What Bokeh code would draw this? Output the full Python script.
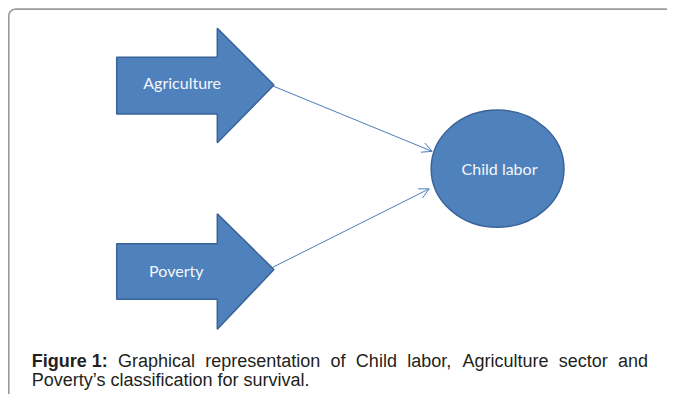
from bokeh.plotting import figure
from bokeh.models import Range1d, Arrow, OpenHead
from bokeh.core.properties import value
from bokeh.embed import file_html
from bokeh.resources import INLINE
import numpy as np

# --- data ---
node_labels = ["Agriculture", "Poverty", "Child labor"]
label_x = [186, 180, 511]
label_y = [85, 281, 175]

# block arrows (reference image coordinates)
arrow_xs = [[119, 222, 222, 280, 222, 222, 119],
            [119, 222, 222, 280, 222, 222, 119]]
arrow_ys = [[59, 59, 29, 88, 148, 118, 118],
            [253, 253, 222, 280, 342, 311, 311]]

# ellipse node
ell_x, ell_y, ell_w, ell_h = 509, 175, 136, 122

# connector lines
conn_x0 = [279, 278]
conn_y0 = [89, 278]
conn_x1 = [442, 439]
conn_y1 = [157, 196]

# caption (line 1 is justified)
cap_bold = "Figure 1:"
cap_words = ["Graphical", "representation", "of", "Child", "labor,",
             "Agriculture", "sector", "and"]
cap_line2 = "Poverty\u2019s classification for survival."

BLUE = "#4F81BD"
EDGE = "#3A639A"
LINE = "#4A7EBB"
CAP_PX = 18.0

# Arial / Liberation Sans advance widths (1/1000 em) for justification
REG = {' ': 278, 'G': 778, 'r': 333, 'a': 556, 'p': 556, 'h': 556, 'i': 222,
       'c': 500, 'l': 222, 'e': 556, 's': 500, 'n': 556, 't': 278, 'o': 556,
       'f': 278, 'C': 722, 'd': 556, 'b': 556, ',': 278, 'A': 667, 'u': 556,
       'g': 556}
BOLD = {'F': 611, 'i': 278, 'g': 611, 'u': 611, 'r': 389, 'e': 556, ' ': 278,
        '1': 556, ':': 333}

W, H = 667, 394
XR, YR = (0, 683), (410, 0)
sx = (XR[1] - XR[0]) / W

def width(s, table):
    return sum(table[ch] for ch in s) / 1000 * CAP_PX * sx

left, right = 32, 663
ws = [width(cap_bold, BOLD)] + [width(w, REG) for w in cap_words]
gap = (right - left - sum(ws)) / len(cap_words)
xs = []
x = left
for w in ws:
    xs.append(x)
    x += w + gap

p = figure(width=W, height=H, output_backend="svg", toolbar_location=None,
           x_range=Range1d(*XR), y_range=Range1d(*YR),
           min_border=0, background_fill_color="white", border_fill_color="white")
p.axis.visible = False
p.grid.visible = False
p.outline_line_color = None

# rounded frame (top and left sides)
r = 7
ang = np.linspace(np.pi, 1.5 * np.pi, 12)
fx = [8.5, 8.5] + list(8.5 + r + r * np.cos(ang)) + [690.0]
fy = [420.0, 9 + r] + list(9 + r + r * np.sin(ang)) + [9.0]
p.line(fx, fy, line_color="#9a9a9a", line_width=1.6)

p.patches(arrow_xs, arrow_ys, fill_color=BLUE, line_color=EDGE, line_width=1.5)
p.ellipse(x=ell_x, y=ell_y, width=ell_w, height=ell_h,
          fill_color=BLUE, line_color=EDGE, line_width=1.5)

for x0, y0, x1, y1 in zip(conn_x0, conn_y0, conn_x1, conn_y1):
    p.add_layout(Arrow(x_start=x0, y_start=y0, x_end=x1, y_end=y1,
                       line_color=LINE, line_width=1,
                       end=OpenHead(size=10, line_color=LINE, line_width=1)))

p.text(x=label_x, y=label_y, text=node_labels, text_align="center",
       text_baseline="middle", text_color="#F4F7FB",
       text_font=value("Lato"), text_font_size="16px")

font_sz = f"{CAP_PX}px"
p.text(x=[xs[0]], y=[375], text=[cap_bold], text_font=value("Liberation Sans"),
       text_font_style="bold", text_font_size=font_sz, text_color="#231F20",
       text_baseline="alphabetic")
p.text(x=xs[1:], y=[375] * len(cap_words), text=cap_words,
       text_font=value("Liberation Sans"), text_font_size=font_sz,
       text_color="#231F20", text_baseline="alphabetic")
p.text(x=[left], y=[395], text=[cap_line2], text_font=value("Liberation Sans"),
       text_font_size=font_sz, text_color="#231F20", text_baseline="alphabetic")

open("out.html", "w").write(file_html(p, INLINE))
